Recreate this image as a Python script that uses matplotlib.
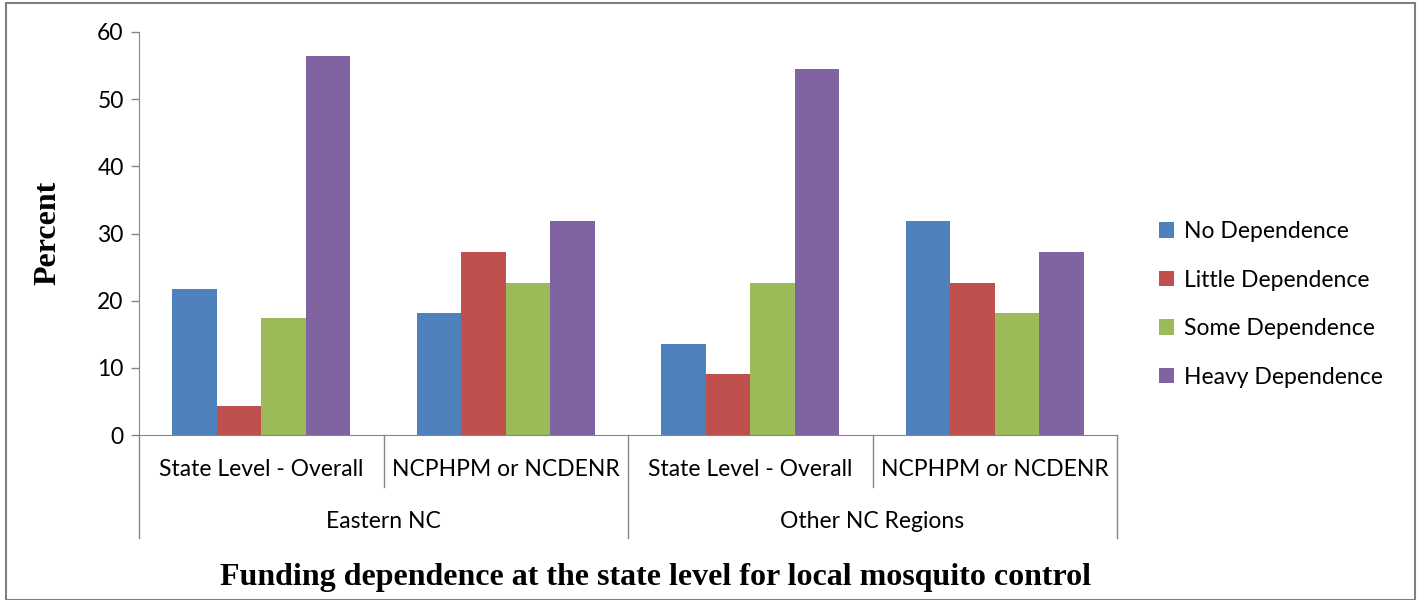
import numpy as np
import matplotlib
matplotlib.use("Agg")
import matplotlib.pyplot as plt
from matplotlib.lines import Line2D
from matplotlib.patches import Rectangle

# data
regions = ["Eastern NC", "Other NC Regions"]
sources = ["State Level - Overall", "NCPHPM or NCDENR"]
series = ["No Dependence", "Little Dependence", "Some Dependence", "Heavy Dependence"]
no_dep = [21.7, 18.2, 13.6, 31.8]
little_dep = [4.3, 27.3, 9.1, 22.7]
some_dep = [17.4, 22.7, 22.7, 18.2]
heavy_dep = [56.5, 31.8, 54.5, 27.3]
yticks = [0, 10, 20, 30, 40, 50, 60]

colors = ["#4F81BD", "#C0504D", "#9BBB59", "#8064A2"]
grey = "#868686"
sans = ["Lato", "DejaVu Sans"]
serif = ["Liberation Serif", "DejaVu Serif"]
fs = 16.5

fig = plt.figure(figsize=(14.17, 6.0), dpi=100)
ax = fig.add_axes([139 / 1417, 1 - 435 / 600, 978 / 1417, 403 / 600])

n_groups = len(no_dep)
x = np.arange(n_groups) + 0.5
w = 0.182
for i, (vals, name) in enumerate(zip([no_dep, little_dep, some_dep, heavy_dep], series)):
    ax.bar(x + (i - 1.5) * w, vals, width=w, color=colors[i], label=name)

ax.set_xlim(0, n_groups)
ax.set_ylim(0, 60)
ax.set_yticks(yticks)
ax.set_yticklabels([str(t) for t in yticks], fontsize=fs, family=sans)
ax.tick_params(axis="y", length=6, color=grey, width=1, pad=5)
ax.set_xticks([])
for s in ["top", "right"]:
    ax.spines[s].set_visible(False)
for s in ["left", "bottom"]:
    ax.spines[s].set_color(grey)

# multi-level category axis
ax_h = 403.0
lvl1 = -52 / ax_h
lvl2 = -103 / ax_h
for b in range(n_groups + 1):
    bottom = lvl2 if b % 2 == 0 else lvl1
    ax.add_line(Line2D([b / n_groups] * 2, [0, bottom], transform=ax.transAxes,
                       color=grey, lw=1, clip_on=False))
labels1 = [sources[i % 2] for i in range(n_groups)]
for i, lab in enumerate(labels1):
    ax.text((i + 0.5) / n_groups, -34 / ax_h, lab, transform=ax.transAxes,
            ha="center", va="center", fontsize=fs, family=sans)
for j, reg in enumerate(regions):
    ax.text((j + 0.5) / 2, -86 / ax_h, reg, transform=ax.transAxes,
            ha="center", va="center", fontsize=fs, family=sans)

fig.text(48 / 1417, 1 - 233 / 600, "Percent", rotation=90, ha="center", va="center",
         fontsize=23, fontweight="bold", family=serif)
fig.text(655 / 1417, 1 - 577 / 600,
         "Funding dependence at the state level for local mosquito control",
         ha="center", va="center", fontsize=23, fontweight="bold", family=serif)

leg = fig.legend(loc="upper left", bbox_to_anchor=(1150 / 1417, 1 - 212 / 600),
                 frameon=False, prop={"family": sans, "size": fs},
                 handlelength=0.65, handleheight=0.65, handletextpad=0.45,
                 labelspacing=1.2, borderaxespad=0)

fig.patches.append(Rectangle((6 / 1417, 0), 1409 / 1417, 1 - 3 / 600,
                             transform=fig.transFigure, fill=False,
                             edgecolor="#7f7f7f", lw=1.5))

fig.savefig("out.png", dpi=100)
